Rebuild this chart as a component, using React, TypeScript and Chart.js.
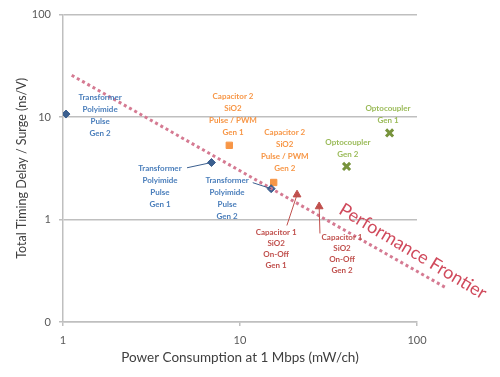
import React, { useEffect, useRef } from "react";
import { Chart, registerables } from "chart.js";

Chart.register(...registerables);

// ---- data ----
const transformerX = [1.04, 6.9, 15];
const transformerY = [10.7, 3.6, 2.0];
const capacitor2X = [8.7, 15.5];
const capacitor2Y = [5.3, 2.3];
const capacitor1X = [21, 28];
const capacitor1Y = [1.75, 1.34];
const optoX = [70, 40];
const optoY = [7.0, 3.3];
const frontierX = [1.12, 147];
const frontierY = [25.6, 0.214];

const xTickValues = [1, 10, 100];
const xTickLabels = ["1", "10", "100"];
const yTickValues = [0.1, 1, 10, 100];
const yTickLabels = ["0", "1", "10", "100"];

const labelTexts = [
  ["Transformer", "Polyimide", "Pulse", "Gen 2"],
  ["Transformer", "Polyimide", "Pulse", "Gen 1"],
  ["Transformer", "Polyimide", "Pulse", "Gen 2"],
  ["Capacitor 2", "SiO2", "Pulse / PWM", "Gen 1"],
  ["Capacitor 2", "SiO2", "Pulse / PWM", "Gen 2"],
  ["Optocoupler", "Gen 1"],
  ["Optocoupler", "Gen 2"],
  ["Capacitor 1", "SiO2", "On-Off", "Gen 1"],
  ["Capacitor 1", "SiO2", "On-Off", "Gen 2"],
];
// label anchors in data coordinates
const labelX = [1.62, 3.53, 8.45, 9.13, 17.9, 68.6, 40.7, 16.0, 37.7];
const labelY = [10.4, 2.09, 1.6, 10.7, 4.68, 10.7, 4.89, 0.511, 0.457];
const labelColors = ["#4a7ebb", "#4a7ebb", "#4a7ebb", "#f79646", "#f79646", "#9bbb59", "#9bbb59", "#c0504d", "#c0504d"];
const labelLineH = [12, 12, 12, 12, 12, 12, 12, 11, 11];

// leader lines: from (data) to point
const leaderFromX = [5.02, 11.8, 18.4, 28.3];
const leaderFromY = [3.2, 2.29, 0.875, 0.731];
const leaderToX = [6.9, 15, 21, 28];
const leaderToY = [3.6, 2.0, 1.75, 1.34];
const leaderColors = ["#3b5f8f", "#3b5f8f", "#c0504d", "#c0504d"];

const frontierTextX = 94.9;
const frontierTextY = 0.489;

const zip = (xs: number[], ys: number[]) => xs.map((x, i) => ({ x, y: ys[i] }));

const annotationPlugin = {
  id: "annots",
  afterDatasetsDraw(chart: any) {
    const ctx = chart.ctx;
    const xs = chart.scales.x;
    const ys = chart.scales.y;
    ctx.save();
    // leader lines
    for (let i = 0; i < leaderFromX.length; i++) {
      ctx.beginPath();
      ctx.strokeStyle = leaderColors[i];
      ctx.lineWidth = 1;
      ctx.moveTo(xs.getPixelForValue(leaderFromX[i]), ys.getPixelForValue(leaderFromY[i]));
      ctx.lineTo(xs.getPixelForValue(leaderToX[i]), ys.getPixelForValue(leaderToY[i]));
      ctx.stroke();
    }
    // labels
    ctx.font = "bold 8px Lato";
    ctx.textAlign = "center";
    ctx.textBaseline = "middle";
    for (let i = 0; i < labelTexts.length; i++) {
      const lines = labelTexts[i];
      const cx = xs.getPixelForValue(labelX[i]);
      const cy = ys.getPixelForValue(labelY[i]);
      const lh = labelLineH[i];
      const y0 = cy - ((lines.length - 1) * lh) / 2;
      ctx.fillStyle = labelColors[i];
      lines.forEach((t, j) => ctx.fillText(t, cx, y0 + j * lh));
    }
    // frontier text
    const fx = xs.getPixelForValue(frontierTextX);
    const fy = ys.getPixelForValue(frontierTextY);
    ctx.translate(fx, fy);
    ctx.rotate((31 * Math.PI) / 180);
    ctx.font = "18px Lato";
    ctx.fillStyle = "#d04a5c";
    ctx.fillText("Performance Frontier", 0, 0);
    ctx.restore();
  },
};

export default function App() {
  const ref = useRef<HTMLCanvasElement>(null);
  useEffect(() => {
    if (!ref.current) return;
    const chart = new Chart(ref.current, {
      type: "scatter",
      data: {
        datasets: [
          {
            type: "line",
            data: zip(frontierX, frontierY),
            borderColor: "#d57a92",
            borderWidth: 3,
            borderDash: [3, 3],
            pointRadius: 0,
            showLine: true,
            clip: false,
            fill: false,
          } as any,
          {
            data: zip(transformerX, transformerY),
            pointStyle: "rectRot",
            pointRadius: 4,
            backgroundColor: "#3b5f8f",
            borderColor: "#3b5f8f",
          },
          {
            data: zip(capacitor2X, capacitor2Y),
            pointStyle: "rect",
            pointRadius: 4.5,
            backgroundColor: "#f79646",
            borderColor: "#f79646",
          },
          {
            data: zip(capacitor1X, capacitor1Y),
            pointStyle: "triangle",
            pointRadius: 4.5,
            backgroundColor: "#c0504d",
            borderColor: "#c0504d",
          },
          {
            data: zip(optoX, optoY),
            pointStyle: "crossRot",
            pointRadius: 5,
            borderWidth: 3,
            backgroundColor: "#77933c",
            borderColor: "#77933c",
          },
        ],
      },
      options: {
        animation: false,
        responsive: false,
        layout: { padding: { top: 13, right: 83, left: 0, bottom: 0 } },
        plugins: { legend: { display: false }, tooltip: { enabled: false } },
        scales: {
          x: {
            type: "logarithmic",
            min: 1,
            max: 100,
            afterBuildTicks: (s: any) => {
              s.ticks = xTickValues.map((v) => ({ value: v }));
            },
            afterFit: (s: any) => {
              s.height = 55;
            },
            ticks: {
              callback: (v: any) => {
                const i = xTickValues.indexOf(Number(v));
                return i >= 0 ? xTickLabels[i] : "";
              },
              color: "#595959",
              font: { family: "Lato", size: 11 },
              padding: 8,
              maxRotation: 0,
            },
            grid: { drawOnChartArea: false, drawTicks: true, tickLength: 4, color: "#bfbfbf", lineWidth: 1.5 },
            border: { color: "#bfbfbf", width: 1.5 },
            title: {
              display: true,
              text: "Power Consumption at 1 Mbps (mW/ch)",
              color: "#404040",
              font: { family: "Lato", size: 13.5 },
              padding: { top: 4, bottom: 11 },
            },
          },
          y: {
            type: "logarithmic",
            min: 0.1,
            max: 100,
            afterBuildTicks: (s: any) => {
              s.ticks = yTickValues.map((v) => ({ value: v }));
            },
            afterFit: (s: any) => {
              s.width = 63;
            },
            ticks: {
              callback: (v: any) => {
                const i = yTickValues.indexOf(Number(v));
                return i >= 0 ? yTickLabels[i] : "";
              },
              color: "#595959",
              font: { family: "Lato", size: 11 },
              padding: 8,
            },
            grid: { drawTicks: true, tickLength: 4, color: "#bfbfbf", lineWidth: 1.5 },
            border: { color: "#bfbfbf", width: 1.5 },
            title: {
              display: true,
              text: "Total Timing Delay / Surge (ns/V)",
              color: "#404040",
              font: { family: "Lato", size: 12.5 },
              padding: { top: 14, bottom: 0 },
            },
          },
        },
      } as any,
      plugins: [annotationPlugin],
    });
    return () => chart.destroy();
  }, []);
  return (
    <div style={{ position: "fixed", left: 0, top: 0, width: 500, height: 377, background: "#fff" }}>
      <canvas ref={ref} width={500} height={377} />
    </div>
  );
}
